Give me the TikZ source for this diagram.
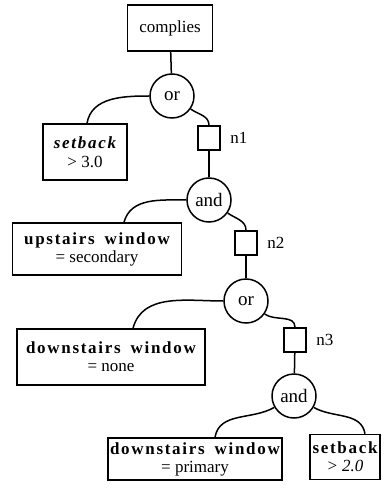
\documentclass[tikz,border=0pt]{standalone}
\usepackage{fontspec}
\setmainfont{Liberation Serif}
\newfontfamily\spacedbf[LetterSpace=10]{Liberation Serif}
\usetikzlibrary{positioning}
\tikzset{
  condBox/.style={rectangle, draw, line width=1.5pt, align=center, inner sep=0pt,
                  font=\fontsize{17}{18}\selectfont},
  opCircle/.style={circle, draw, line width=1.5pt, minimum size=44pt, inner sep=0pt,
                   font=\fontsize{19}{20}\selectfont},
  refBox/.style={rectangle, draw, line width=1.5pt, minimum width=22pt,
                 minimum height=24pt, inner sep=0pt},
  refLabel/.style={right=6pt, font=\fontsize{17}{18}\selectfont},
  link/.style={line width=1.5pt},
}
\newcommand{\attr}[1]{{\spacedbf\bfseries #1}}
\newcommand{\val}[1]{{\fontsize{17}{18}\selectfont #1}}

\begin{document}
\begin{tikzpicture}[x=1pt, y=-1pt]
    \useasboundingbox (0,0) rectangle (390,494);
    \node[condBox, minimum width=85pt, minimum height=46pt] (comp) at (170,28) {complies};
    \node[opCircle] (or1) at (172,96) {or};
    \node[condBox, minimum width=84pt, minimum height=56pt] (sb1) at (85,152)
      {\attr{\itshape setback}\\[1pt] \val{> 3.0}};
    \node[refBox] (n1) at (209,138) {};
    \node[refLabel] at (n1.east) {n1};
    \node[opCircle] (and1) at (209,200) {and};
    \node[condBox, minimum width=169pt, minimum height=52pt] (up) at (97,249)
      {\attr{upstairs\hspace{4pt} window}\\ \val{= secondary}};
    \node[refBox] (n2) at (246,243) {};
    \node[refLabel] at (n2.east) {n2};
    \node[opCircle] (or2) at (246,301) {or};
    \node[condBox, minimum width=188pt, minimum height=56pt] (dw1) at (111,357)
      {\attr{downstairs\hspace{4pt} window}\\ \val{= none}};
    \node[refBox] (n3) at (295,340) {};
    \node[refLabel] at (n3.east) {n3};
    \node[opCircle] (and2) at (294,396) {and};
    \node[condBox, minimum width=174pt, minimum height=42pt] (dw2) at (195,459)
      {\attr{downstairs\hspace{4pt} window}\\ \val{= primary}};
    \node[condBox, minimum width=70pt, minimum height=45pt] (sb2) at (345,457)
      {\attr{setback}\\ \val{\itshape > 2.0}};

    \draw[link] (comp) -- (or1);
    \draw[link] (or1.west) to[out=180, in=80] ([xshift=2pt]sb1.north);
    \draw[link] (or1.-35) to[out=-35, in=90] (n1.north);
    \draw[link] (n1) -- (and1);
    \draw[link] (and1.west) to[out=180, in=75] ([xshift=27pt]up.north);
    \draw[link] (and1.-35) to[out=-35, in=90] (n2.north);
    \draw[link] (n2) -- (or2);
    \draw[link] (or2.west) to[out=180, in=75] ([xshift=22pt]dw1.north);
    \draw[link] (or2.-35) to[out=-35, in=90] (n3.north);
    \draw[link] (n3) -- (and2);
    \draw[link] (and2.-150) to[out=-150, in=80] ([xshift=20pt]dw2.north);
    \draw[link] (and2.-30) to[out=-30, in=100] ([xshift=20pt]sb2.north);
  \end{tikzpicture}
\end{document}
